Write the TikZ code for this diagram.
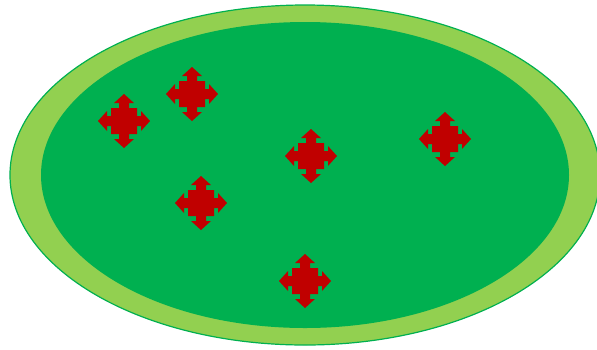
\documentclass[tikz,border=0pt]{standalone}
\usetikzlibrary{}
\definecolor{lightg}{HTML}{92D050}
\definecolor{darkg}{HTML}{00B050}
\definecolor{redc}{HTML}{C00000}
\tikzset{
  quadarrow/.pic={
    \fill[redc] (-13,-13) -- (-5,-13) -- (-5,-18) -- (-10,-18) -- (0,-27) -- (10,-18) -- (5,-18) -- (5,-13)
      -- (13,-13) -- (13,-5) -- (17,-5) -- (17,-10) -- (26,0) -- (17,10) -- (17,5) -- (13,5)
      -- (13,13) -- (5,13) -- (5,18) -- (10,18) -- (0,27) -- (-10,18) -- (-5,18) -- (-5,13)
      -- (-13,13) -- (-13,5) -- (-17,5) -- (-17,10) -- (-26,0) -- (-17,-10) -- (-17,-5) -- (-13,-5) -- cycle;
  }
}
\begin{document}
\begin{tikzpicture}[x=1pt,y=-1pt]
\useasboundingbox (0,0) rectangle (597,349);
\fill[white] (0,0) rectangle (597,349);
\draw[fill=lightg,draw=darkg,line width=1.2pt] (305,175) ellipse [x radius=295, y radius=170];
\fill[darkg] (305,175) ellipse [x radius=264, y radius=153];
\pic at (124,121) {quadarrow};
\pic at (192,94) {quadarrow};
\pic at (311,156) {quadarrow};
\pic at (445,139) {quadarrow};
\pic at (201,203) {quadarrow};
\pic at (305,281) {quadarrow};
\end{tikzpicture}
\end{document}
